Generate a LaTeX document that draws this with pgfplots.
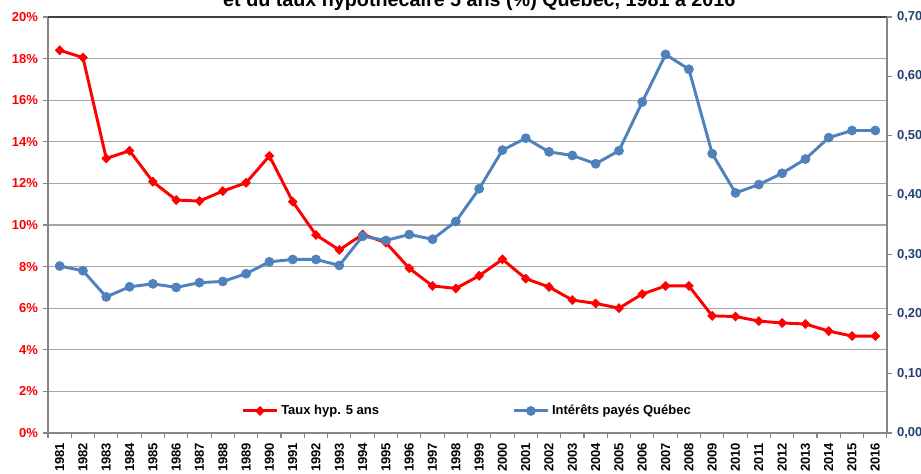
\documentclass[border=0pt]{standalone}
\usepackage{pgfplots}
\pgfplotsset{compat=1.18}
\usepackage{pgfplotstable}
\usepackage{fontspec}
\setmainfont{Liberation Sans}
\definecolor{hypred}{RGB}{255,0,0}
\definecolor{intblue}{RGB}{79,129,189}
\definecolor{axblue}{RGB}{38,64,115}
\definecolor{axgray}{RGB}{134,134,134}
\definecolor{gridgray}{RGB}{165,165,165}
\definecolor{topdark}{RGB}{64,64,64}

\pgfplotstableread{
year taux int
1981 18.40 0.281
1982 18.05 0.273
1983 13.20 0.229
1984 13.57 0.246
1985 12.08 0.251
1986 11.20 0.245
1987 11.15 0.253
1988 11.63 0.255
1989 12.03 0.268
1990 13.32 0.288
1991 11.12 0.292
1992 9.52 0.292
1993 8.80 0.282
1994 9.55 0.331
1995 9.15 0.324
1996 7.92 0.334
1997 7.07 0.326
1998 6.95 0.356
1999 7.56 0.411
2000 8.35 0.476
2001 7.42 0.496
2002 7.02 0.473
2003 6.39 0.467
2004 6.23 0.453
2005 6.00 0.475
2006 6.68 0.557
2007 7.07 0.637
2008 7.07 0.612
2009 5.63 0.470
2010 5.60 0.404
2011 5.38 0.418
2012 5.29 0.437
2013 5.24 0.461
2014 4.90 0.497
2015 4.66 0.509
2016 4.66 0.509
}\data

\newcommand{\lblfont}{\fontsize{9.75}{11}\selectfont\bfseries}

\tikzset{
  redstyle/.style={hypred, line width=2.2pt, mark=diamond*, mark size=3.3pt,
    mark options={solid, fill=hypred, draw=hypred, line width=0.6pt, xscale=1.3}},
  bluestyle/.style={intblue, line width=2.2pt, mark=*, mark size=3.4pt,
    mark options={solid, fill=intblue, draw=intblue, line width=0.5pt}},
}

\begin{document}
\begin{tikzpicture}
\path[use as bounding box] (-36pt,-30.75pt) rectangle (654.75pt,324.75pt);

\node[font=\fontsize{14.8}{17}\selectfont\bfseries, anchor=base] at (323.5pt,320pt)
  {et du taux hypothécaire 5 ans (\%) Québec, 1981 à 2016};

\begin{axis}[
  scale only axis, width=629.25pt, height=312pt,
  xmin=1980.5, xmax=2016.5, ymin=0, ymax=20,
  axis x line*=bottom, axis y line*=left,
  x axis line style={-, axgray, line width=0.9pt},
  y axis line style={-, axgray, line width=0.9pt},
  tick align=outside,
  major tick length=4pt, minor tick length=4pt,
  xtick={1981,...,2016},
  minor xtick={1980.5,1981.5,...,2016.5},
  major x tick style={draw=none},
  minor x tick style={axgray, line width=0.8pt},
  ytick={0,2,...,20},
  y tick style={axgray, line width=0.8pt},
  ymajorgrids, grid style={gridgray, line width=0.9pt},
  /pgf/number format/assume math mode=true,
  xticklabel style={rotate=90, anchor=east, font=\lblfont, black,
    /pgf/number format/1000 sep={}},
  yticklabel={\pgfmathprintnumber{\tick}\%},
  yticklabel style={font=\lblfont, hypred},
]
\addplot[redstyle] table[x=year, y=taux] {\data};
\end{axis}

\begin{axis}[
  scale only axis, width=629.25pt, height=312pt,
  xmin=1980.5, xmax=2016.5, ymin=0, ymax=0.7,
  axis x line*=top, axis y line*=right,
  xtick=\empty,
  x axis line style={-, topdark, line width=1.5pt},
  y axis line style={-, axgray, line width=0.9pt},
  tick align=outside, major tick length=4pt,
  ytick={0,0.1,0.2,0.3,0.4,0.5,0.6,0.7},
  y tick style={axgray, line width=0.8pt},
  /pgf/number format/assume math mode=true,
  yticklabel style={font=\lblfont, axblue,
    /pgf/number format/.cd, fixed, fixed zerofill, precision=2, use comma},
  legend style={draw=none, fill=none, at={(0.5,0.053)}, anchor=center,
    font=\lblfont, /tikz/every even column/.append style={column sep=98pt}},
  legend columns=2,
  legend image code/.code={\draw[mark repeat=2, mark phase=2, #1]
    plot coordinates {(0cm,0cm) (0.45cm,0cm) (0.9cm,0cm)};},
]
\addlegendimage{redstyle}
\addlegendentry{Taux hyp. 5 ans}
\addplot[bluestyle] table[x=year, y=int] {\data};
\addlegendentry{Intérêts payés Québec}
\end{axis}
\end{tikzpicture}
\end{document}
